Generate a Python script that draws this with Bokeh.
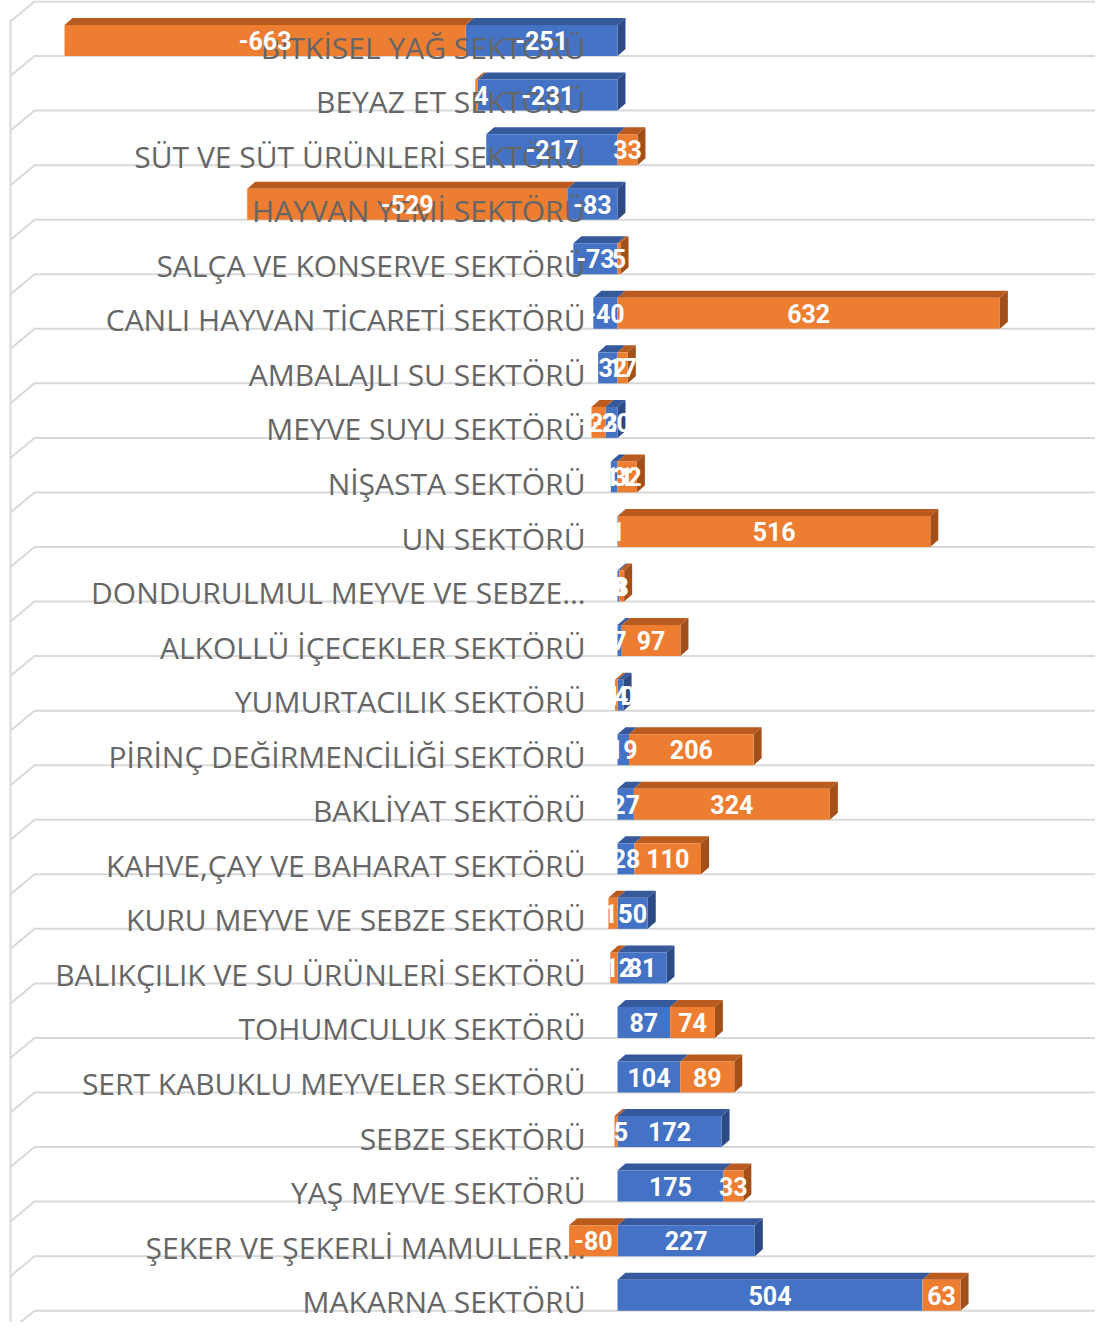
from bokeh.plotting import figure
from bokeh.models import Range1d, ColumnDataSource
from bokeh.core.properties import value
from bokeh.embed import file_html
from bokeh.resources import INLINE

categories = [
    "BİTKİSEL YAĞ SEKTÖRÜ", "BEYAZ ET SEKTÖRÜ", "SÜT VE SÜT ÜRÜNLERİ SEKTÖRÜ",
    "HAYVAN YEMİ SEKTÖRÜ", "SALÇA VE KONSERVE SEKTÖRÜ", "CANLI HAYVAN TİCARETİ SEKTÖRÜ",
    "AMBALAJLI SU SEKTÖRÜ", "MEYVE SUYU SEKTÖRÜ", "NİŞASTA SEKTÖRÜ", "UN SEKTÖRÜ",
    "DONDURULMUL MEYVE VE SEBZE…", "ALKOLLÜ İÇECEKLER SEKTÖRÜ", "YUMURTACILIK SEKTÖRÜ",
    "PİRİNÇ DEĞİRMENCİLİĞİ SEKTÖRÜ", "BAKLİYAT SEKTÖRÜ", "KAHVE,ÇAY VE BAHARAT SEKTÖRÜ",
    "KURU MEYVE VE SEBZE SEKTÖRÜ", "BALIKÇILIK VE SU ÜRÜNLERİ SEKTÖRÜ", "TOHUMCULUK SEKTÖRÜ",
    "SERT KABUKLU MEYVELER SEKTÖRÜ", "SEBZE SEKTÖRÜ", "YAŞ MEYVE SEKTÖRÜ",
    "ŞEKER VE ŞEKERLİ MAMULLER…", "MAKARNA SEKTÖRÜ",
]
blue_values = [-251, -231, -217, -83, -73, -40, -32, -20, -11, 1, 3, 7, 10, 19, 27, 28,
               50, 81, 87, 104, 172, 175, 227, 504]
orange_values = [-663, -4, 33, -529, 5, 632, 17, -23, 32, 516, 8, 97, -4, 206, 324, 110,
                 -15, -12, 74, 89, -5, 33, -80, 63]

BLUE, BLUE_TOP, BLUE_SIDE = "#4472C4", "#35599B", "#2C4A84"
ORANGE, ORANGE_TOP, ORANGE_SIDE = "#ED7D31", "#B95A1E", "#A24F1A"

# layout constants (pixels inside the plot frame)
W, H = 1095, 1322
PXU = 0.605          # pixels per data unit (x)
ZERO_PX = 617        # x pixel of the zero value
ROW = 54.55          # pixels per category row
TOP_PX = 1.0         # pixel y of the first row boundary
DX, DY = 8.0, 7.0    # 3D depth offsets in pixels
BAR_H = 31.0         # front face height in pixels

def ux(px):
    return (px - ZERO_PX) / PXU

def uy(px):
    return px / ROW

n = len(categories)
p = figure(width=W, height=H, output_backend="svg", toolbar_location=None,
           x_range=Range1d(ux(0), ux(W)),
           y_range=Range1d((H - TOP_PX) / ROW, (0 - TOP_PX) / ROW),
           min_border=0)
p.axis.visible = False
p.grid.visible = False
p.outline_line_color = None
p.background_fill_color = "white"

# 3D walls / gridlines
gx, gy = [], []
for k in range(n + 1):
    gx.append([ux(10), ux(34), ux(W)])
    gy.append([k + uy(20), k, k])
p.multi_line(gx, gy, line_color="#D9D9D9", line_width=2)
p.line([ux(10), ux(10)], [uy(18), n + uy(20)], line_color="#D9D9D9", line_width=2)

# stacked segments
seg = dict(left=[], right=[], top=[], bottom=[], color=[], label=[], cx=[], cy=[])
tops = dict(xs=[], ys=[], color=[])
sides = dict(xs=[], ys=[], color=[])
dx, dy = DX / PXU, uy(DY)
for i, (b, o) in enumerate(zip(blue_values, orange_values)):
    pos, neg = 0.0, 0.0
    bottom = i + 1
    top = i + 1 - uy(BAR_H)
    row_segs = []
    for v, c, ct, cs in ((b, BLUE, BLUE_TOP, BLUE_SIDE), (o, ORANGE, ORANGE_TOP, ORANGE_SIDE)):
        if v >= 0:
            x0, x1 = pos, pos + v
            pos = x1
        else:
            x0, x1 = neg + v, neg
            neg = x0
        row_segs.append((x0, x1, c, ct, cs, v))
    for x0, x1, c, ct, cs, v in row_segs:
        seg["left"].append(x0); seg["right"].append(x1)
        seg["top"].append(top); seg["bottom"].append(bottom)
        seg["color"].append(c); seg["label"].append(str(v))
        seg["cx"].append((x0 + x1) / 2); seg["cy"].append(bottom - uy(BAR_H / 2))
        tops["xs"].append([x0, x1, x1 + dx, x0 + dx])
        tops["ys"].append([top, top, top - dy, top - dy])
        tops["color"].append(ct)
    x0, x1, c, ct, cs, v = max(row_segs, key=lambda s: s[1])
    sides["xs"].append([x1, x1 + dx, x1 + dx, x1])
    sides["ys"].append([bottom, bottom - dy, top - dy, top])
    sides["color"].append(cs)

p.patches("xs", "ys", source=ColumnDataSource(tops), fill_color="color", line_color=None)
p.patches("xs", "ys", source=ColumnDataSource(sides), fill_color="color", line_color=None)
src = ColumnDataSource(seg)
p.quad(left="left", right="right", top="top", bottom="bottom", source=src,
       fill_color="color", line_color=None)

# category labels
p.text(x=[ux(585)] * n, y=[i + 1 - uy(9) for i in range(n)], text=categories,
       text_align="right", text_baseline="alphabetic", text_color="#666666",
       text_font=value("Open Sans"), text_font_size="30px")

# data labels
p.text(x="cx", y="cy", text="label", source=src, text_align="center",
       text_baseline="middle", text_color="white", text_font_style="bold",
       text_font=value("Roboto"), text_font_size="25px")

open("out.html", "w").write(file_html(p, INLINE))
